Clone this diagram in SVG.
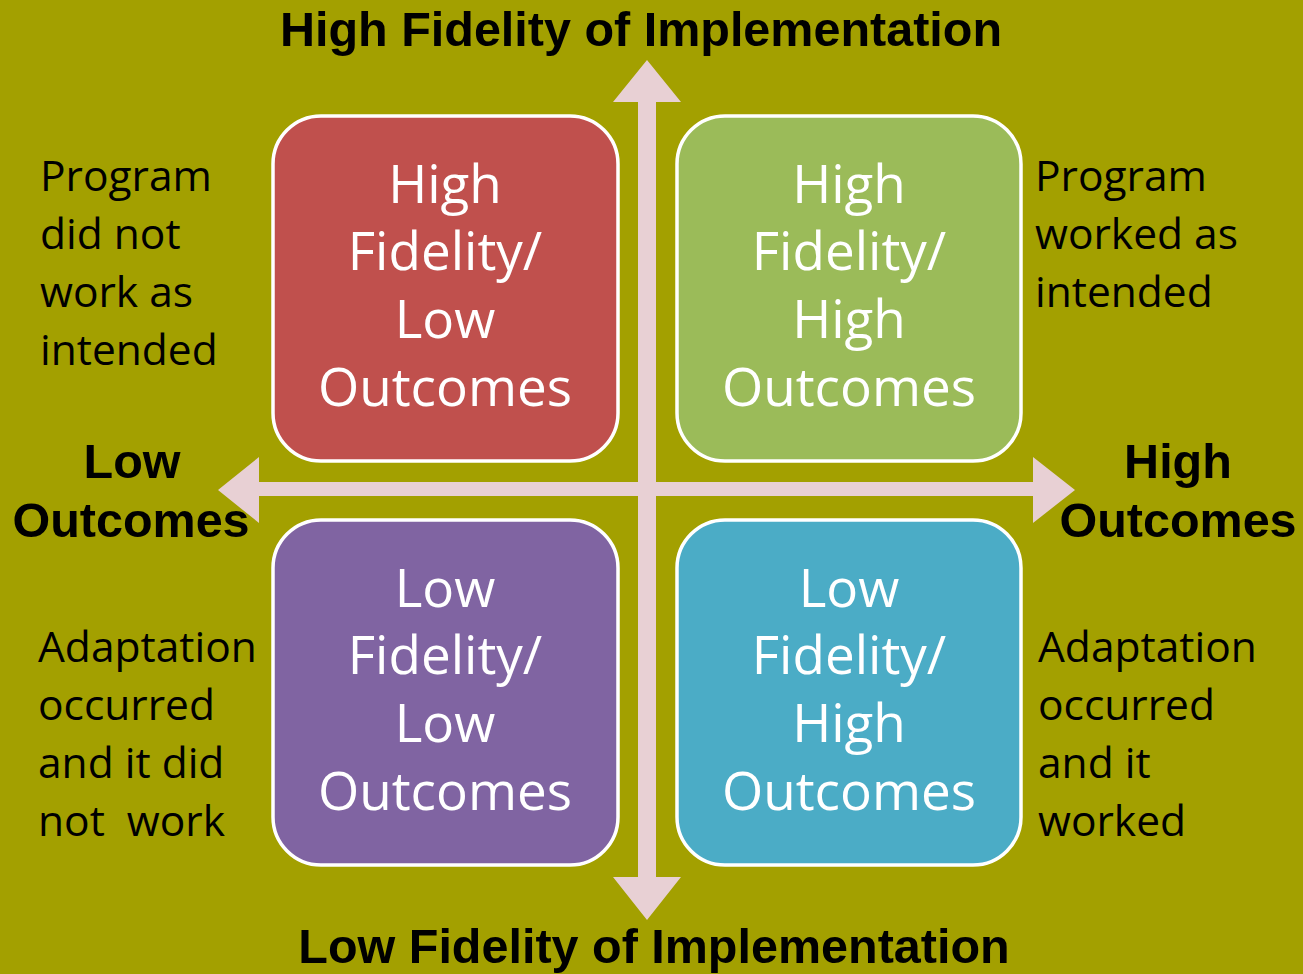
<svg xmlns="http://www.w3.org/2000/svg" width="1303" height="974" viewBox="0 0 1303 974">
<style>
.box{stroke:#fff;stroke-width:3.5}
.bt{font-family:"Open Sans","Liberation Sans",sans-serif;font-size:53px;fill:#fff;text-anchor:middle}
.st{font-family:"Open Sans","Liberation Sans",sans-serif;font-size:42.5px;fill:#000}
.tt{font-family:"Liberation Sans",Arial,sans-serif;font-weight:bold;font-size:48.5px;fill:#000;text-anchor:middle}
.arr{fill:#E8D0D4}
</style>
<rect x="0" y="0" width="1303" height="974" fill="#A3A000"/>
<g id="connectors">
<polygon class="arr" points="638,102 613,102 647,60 681,102 656,102 656,877 681,877 647,920 613,877 638,877"/>
<polygon class="arr" points="259,482 259,457 218,490 259,523 259,496 1033,496 1033,523 1075,490 1033,457 1033,482"/>
</g>
<g id="q-hf-lo">
<rect class="box" x="273" y="116" width="345" height="345" rx="48" fill="#C0504D"/>
<text class="bt" x="445" y="203">High</text>
<text class="bt" x="445" y="270">Fidelity/</text>
<text class="bt" x="445" y="338">Low</text>
<text class="bt" x="445" y="406">Outcomes</text>
</g>
<g id="q-hf-ho">
<rect class="box" x="677" y="116" width="344" height="345" rx="48" fill="#9BBB59"/>
<text class="bt" x="849" y="203">High</text>
<text class="bt" x="849" y="270">Fidelity/</text>
<text class="bt" x="849" y="338">High</text>
<text class="bt" x="849" y="406">Outcomes</text>
</g>
<g id="q-lf-lo">
<rect class="box" x="273" y="520" width="345" height="345" rx="48" fill="#8064A2"/>
<text class="bt" x="445" y="607">Low</text>
<text class="bt" x="445" y="674">Fidelity/</text>
<text class="bt" x="445" y="742">Low</text>
<text class="bt" x="445" y="810">Outcomes</text>
</g>
<g id="q-lf-ho">
<rect class="box" x="677" y="520" width="344" height="345" rx="48" fill="#4BACC6"/>
<text class="bt" x="849" y="607">Low</text>
<text class="bt" x="849" y="674">Fidelity/</text>
<text class="bt" x="849" y="742">High</text>
<text class="bt" x="849" y="810">Outcomes</text>
</g>
<g id="axis-labels">
<text class="tt" x="641" y="46">High Fidelity of Implementation</text>
<text class="tt" x="654" y="963">Low Fidelity of Implementation</text>
<text class="tt" x="132" y="478">Low</text>
<text class="tt" x="131" y="537">Outcomes</text>
<text class="tt" x="1178" y="478">High</text>
<text class="tt" x="1178" y="537">Outcomes</text>
</g>
<g id="notes">
<text class="st" x="40" y="191">Program</text>
<text class="st" x="40" y="249">did not</text>
<text class="st" x="40" y="307">work as</text>
<text class="st" x="40" y="365">intended</text>
<text class="st" x="1035" y="191">Program</text>
<text class="st" x="1035" y="249">worked as</text>
<text class="st" x="1035" y="307">intended</text>
<text class="st" x="38" y="662">Adaptation</text>
<text class="st" x="38" y="720">occurred</text>
<text class="st" x="38" y="778">and it did</text>
<text class="st" x="38" y="836" xml:space="preserve">not  work</text>
<text class="st" x="1038" y="662">Adaptation</text>
<text class="st" x="1038" y="720">occurred</text>
<text class="st" x="1038" y="778">and it</text>
<text class="st" x="1038" y="836">worked</text>
</g>
</svg>
